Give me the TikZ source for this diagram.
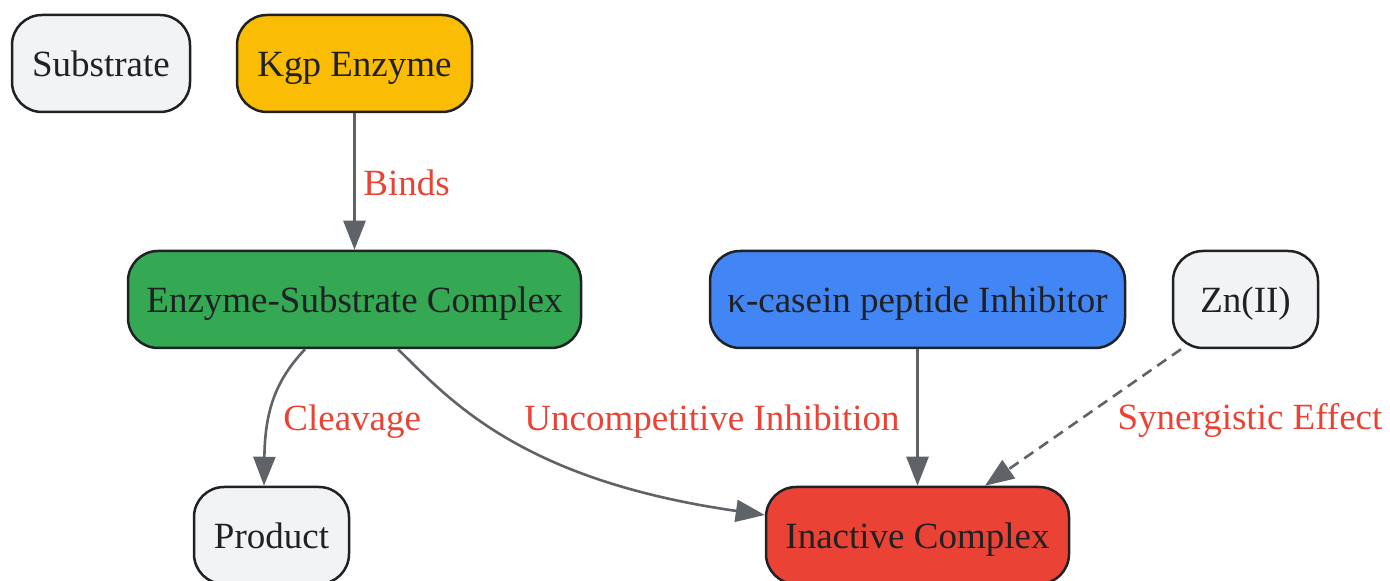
\documentclass[tikz,border=0pt]{standalone}
\usepackage{fontspec}
\setmainfont{Liberation Serif}
\usetikzlibrary{arrows.meta}
\definecolor{nodegray}{HTML}{F1F3F4}
\definecolor{nodeline}{HTML}{202124}
\definecolor{edgegray}{HTML}{5F6368}
\definecolor{labelred}{HTML}{EA4335}
\definecolor{kgpyellow}{HTML}{FBBC04}
\definecolor{esgreen}{HTML}{34A853}
\definecolor{inhblue}{HTML}{4285F4}
\definecolor{inactred}{HTML}{EA4335}
\tikzset{
  box/.style={draw=nodeline,line width=1.25pt,rounded corners=15pt,
    minimum height=48.5pt,inner sep=0pt,text=nodeline,
    text height=13pt,text depth=0pt,
    font=\fontsize{18.5}{22}\selectfont},
  edge/.style={draw=edgegray,line width=1.3pt,-{Triangle[length=14.5pt,width=11pt]}},
  elabel/.style={text=labelred,inner sep=0pt,text height=13pt,text depth=0pt,
    font=\fontsize{18.5}{22}\selectfont},
}
\begin{document}
\begin{tikzpicture}[x=0.5pt,y=-0.5pt]
\useasboundingbox (0,0) rectangle (1390,581);
%%
  % Node: substrate
  \node[box,fill=nodegray,minimum width=89pt] (substrate) at (101,63.5) {Substrate};
  % Node: kgp
  \node[box,fill=kgpyellow,minimum width=117.5pt] (kgp) at (354.5,63.5) {Kgp Enzyme};
  % Node: es
  \node[box,fill=esgreen,minimum width=226.5pt] (es) at (354.5,299.5) {Enzyme-Substrate Complex};
  % Node: inhibitor
  \node[box,fill=inhblue,minimum width=207.5pt] (inhibitor) at (917.5,299.5) {κ-casein peptide Inhibitor};
  % Node: zn
  \node[box,fill=nodegray,minimum width=72.5pt] (zn) at (1245.5,299.5) {Zn(II)};
  % Node: product
  \node[box,fill=nodegray,minimum width=77.5pt] (product) at (271.5,535.5) {Product};
  % Node: inactive
  \node[box,fill=inactred,minimum width=151.5pt] (inactive) at (917.5,535.5) {Inactive Complex};
%
  % Edge: kgp -> es
  \draw[edge] (kgp) -- (es);
  \node[elabel,anchor=west] (lbinds) at (363,183) {Binds};
  % Edge: es -> product
  \draw[edge] (es.south) ++(-49.5,0) .. controls (276,380) and (265,410) .. (product.north -| 264,0);
  \node[elabel,anchor=west] (lcleave) at (283,418) {Cleavage};
  % Edge: es -> inactive
  \draw[edge] (es.south) ++(43.5,0) .. controls (450,400) and (520,480) .. (inactive.west |- 0,515);
  \node[elabel] (luncomp) at (712,418) {Uncompetitive Inhibition};
  % Edge: inhibitor -> inactive
  \draw[edge] (inhibitor) -- (inactive);
  % Edge: zn -> inactive
  \draw[edge,dash pattern=on 5.5pt off 3.5pt] (zn.south -| 1181,0) -- (inactive.north -| 985,0);
  \node[elabel] (lsyn) at (1250,417) {Synergistic Effect};
%
\end{tikzpicture}
\end{document}
